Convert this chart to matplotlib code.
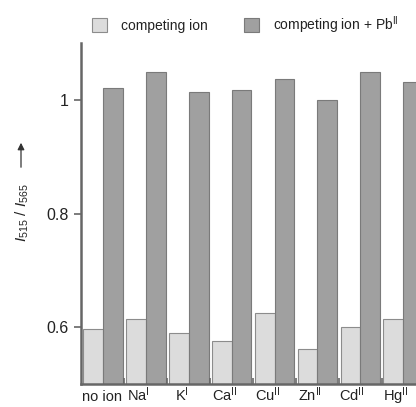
import matplotlib
matplotlib.use("Agg")
import matplotlib.pyplot as plt
import numpy as np

# data
ions = ["no ion", "Na$^{\\mathrm{I}}$", "K$^{\\mathrm{I}}$", "Ca$^{\\mathrm{II}}$",
        "Cu$^{\\mathrm{II}}$", "Zn$^{\\mathrm{II}}$", "Cd$^{\\mathrm{II}}$", "Hg$^{\\mathrm{II}}$"]
ion_only = [0.597, 0.615, 0.589, 0.575, 0.625, 0.561, 0.600, 0.615]
ion_pb = [1.021, 1.049, 1.014, 1.018, 1.037, 0.999, 1.049, 1.032]

plt.rcParams["font.family"] = ["Liberation Sans", "DejaVu Sans"]
plt.rcParams["mathtext.fontset"] = "custom"
plt.rcParams["mathtext.rm"] = "Liberation Sans"
plt.rcParams["mathtext.it"] = "Liberation Sans:italic"
plt.rcParams["text.color"] = "#222222"
plt.rcParams["xtick.labelcolor"] = "#222222"
plt.rcParams["ytick.labelcolor"] = "#222222"

W, H = 416, 407
fig = plt.figure(figsize=(W / 100, H / 100), dpi=100)
ax = fig.add_axes([81 / W, 1 - 384 / H, (W - 81) / W, (384 - 43) / H])

x = np.arange(len(ions))
w = 0.46
light = "#dcdcdc"
dark = "#a0a0a0"
ax.bar(x + w / 2, ion_only, w, color=light, edgecolor="#8c8c8c", linewidth=0.8,
       label="competing ion")
ax.bar(x + 1.5 * w, ion_pb, w, color=dark, edgecolor="#7a7a7a", linewidth=0.8,
       label="competing ion + Pb$^{\\mathrm{II}}$")

ax.set_ylim(0.5, 1.1)
ax.set_xlim(-0.054, 7.76)
ax.set_yticks([0.6, 0.8, 1.0])
ax.set_yticklabels(["0.6", "0.8", "1"])

# boundary ticks between groups, labels via minor ticks
ax.set_xticks(x[1:] - 0.04)
ax.set_xticklabels([])
label_pos = [0.44, 1.28, 2.30, 3.30, 4.29, 5.29, 6.27, 7.28]
ax.set_xticks(label_pos, minor=True)
ax.set_xticklabels(ions, minor=True, fontsize=10.5)
ax.tick_params(axis="x", which="major", direction="in", length=4, width=1.2, color="#666666")
ax.tick_params(axis="x", which="minor", length=0, pad=1)
ax.tick_params(axis="y", direction="out", length=5, width=1.2, color="#666666",
               labelsize=11.5, pad=4)
for lab in ax.get_xticklabels(minor=True):
    lab.set_va("baseline")
    lab.set_y(-0.046)

for s in ["top", "right"]:
    ax.spines[s].set_visible(False)
for s in ["left", "bottom"]:
    ax.spines[s].set_color("#666666")
    ax.spines[s].set_linewidth(1.8)

fig.legend(loc="center", bbox_to_anchor=(245 / W, 1 - 25 / H), ncol=2, frameon=False,
           fontsize=10, handlelength=1.1, handleheight=1.1, columnspacing=2.6,
           handletextpad=1.0)

fig.text(22 / W, 1 - 213 / H, "$I_{515}$ / $I_{565}$", rotation=90,
         ha="center", va="center", fontsize=11)
fig.patches.append(matplotlib.patches.FancyArrowPatch(
    (21 / W, 1 - 170 / H), (21 / W, 1 - 140 / H), transform=fig.transFigure,
    arrowstyle="-|>", mutation_scale=10, color="#333333", linewidth=0.9))

fig.savefig("out.png", dpi=100)
